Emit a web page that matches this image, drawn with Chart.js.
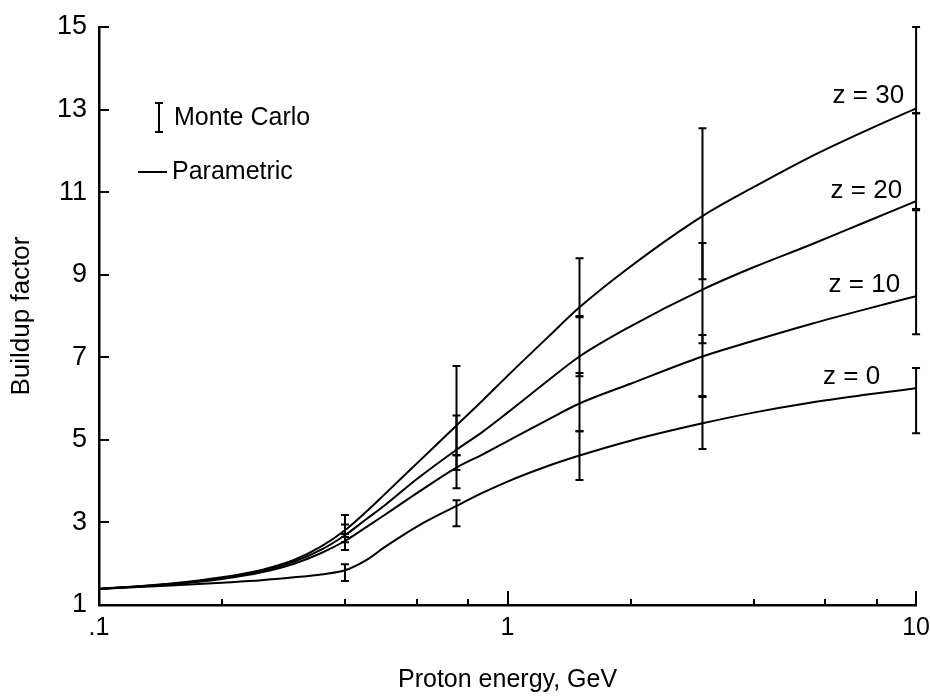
<!DOCTYPE html>
<html>
<head>
<meta charset="utf-8">
<script src="https://cdn.jsdelivr.net/npm/chart.js@4.4.1/dist/chart.umd.min.js"></script>
<style>
html,body{margin:0;padding:0;background:#fff;}
#wrap{width:930px;height:697px;position:relative;}
</style>
</head>
<body>
<div id="wrap"><canvas id="c" width="930" height="697"></canvas></div>
<script>
// ---------- data ----------
const energies = [0.1, 0.15, 0.2, 0.25, 0.3, 0.35, 0.4, 0.45, 0.5, 0.6, 0.75, 0.87, 1.0, 1.25, 1.5, 2.0, 3.0, 4.0, 5.5, 7.5, 10];
const z0  = [1.39, 1.47, 1.54, 1.60, 1.67, 1.74, 1.84, 2.08, 2.40, 2.90, 3.40, 3.72, 3.99, 4.36, 4.62, 4.98, 5.40, 5.66, 5.90, 6.09, 6.25];
const z10 = [1.39, 1.50, 1.63, 1.79, 2.00, 2.26, 2.55, 2.88, 3.18, 3.71, 4.33, 4.65, 4.97, 5.48, 5.88, 6.36, 7.02, 7.40, 7.80, 8.16, 8.48];
const z20 = [1.39, 1.51, 1.65, 1.82, 2.05, 2.34, 2.69, 3.07, 3.41, 4.05, 4.76, 5.20, 5.66, 6.42, 7.02, 7.75, 8.64, 9.18, 9.72, 10.27, 10.78];
const z30 = [1.39, 1.52, 1.67, 1.85, 2.09, 2.42, 2.81, 3.25, 3.68, 4.43, 5.35, 5.96, 6.55, 7.47, 8.21, 9.20, 10.42, 11.12, 11.85, 12.48, 13.03];
const curveLabels = ['z = 0', 'z = 10', 'z = 20', 'z = 30'];

// Monte Carlo error bars (low / high) at these energies
const mcEnergies = [0.4, 0.75, 1.5, 3, 10];
const mcZ0Low   = [1.58, 2.91, 4.03, 4.78, 5.16];
const mcZ0High  = [1.99, 3.54, 5.21, 6.04, 6.74];
const mcZ10Low  = [2.33, 3.83, 5.21, 6.06, 7.56];
const mcZ10High = [2.65, 4.63, 6.62, 7.54, 10.56];
const mcZ20Low  = [2.52, 4.27, 6.54, 7.34, 10.59];
const mcZ20High = [2.95, 5.59, 7.97, 9.77, 12.91];
const mcZ30Low  = [2.72, 4.63, 8.00, 8.89, 12.91];
const mcZ30High = [3.18, 6.79, 9.40, 12.55, 15.0];

// axes
const yTickValues = [1, 3, 5, 7, 9, 11, 13, 15];
const xTickValues = [0.1, 1, 10];
const xTickLabels = ['.1', '1', '10'];
const xMinorTickValues = [0.2, 0.4, 0.6, 0.8, 2, 4, 6, 8];
const xTitle = 'Proton energy, GeV';
const yTitle = 'Buildup factor';
const legendMC = 'Monte Carlo';
const legendParam = 'Parametric';

// ---------- drawing ----------
const FONT = "'Liberation Sans Narrow','Liberation Sans',Arial,sans-serif";
const curves = [z0, z10, z20, z30];
const mcSets = [
  {low: mcZ0Low, high: mcZ0High},
  {low: mcZ10Low, high: mcZ10High},
  {low: mcZ20Low, high: mcZ20High},
  {low: mcZ30Low, high: mcZ30High}
];
// label placement relative to the curve end (style)
const labelDx = [-36, -16, -14, -12];
const labelDy = [-11, -11, -10, -13];

const overlay = {
  id: 'overlay',
  afterDatasetsDraw(chart) {
    const {ctx, chartArea: a} = chart;
    const x = chart.scales.x, y = chart.scales.y;
    ctx.save();
    ctx.strokeStyle = '#000';
    ctx.fillStyle = '#000';
    ctx.lineCap = 'butt';
    // tick marks (inside)
    ctx.lineWidth = 2;
    yTickValues.forEach(v => {
      if (v === yTickValues[0]) return;
      const py = Math.round(y.getPixelForValue(v));
      ctx.beginPath(); ctx.moveTo(a.left, py); ctx.lineTo(a.left + 10, py); ctx.stroke();
    });
    xTickValues.forEach((v, i) => {
      if (i === 0) return;
      const px = Math.round(x.getPixelForValue(v));
      ctx.beginPath(); ctx.moveTo(px, a.bottom); ctx.lineTo(px, a.bottom - 14); ctx.stroke();
    });
    xMinorTickValues.forEach(v => {
      const px = Math.round(x.getPixelForValue(v));
      ctx.beginPath(); ctx.moveTo(px, a.bottom); ctx.lineTo(px, a.bottom - 6); ctx.stroke();
    });
    // error bars
    ctx.lineWidth = 2;
    mcSets.forEach(set => {
      set.low.forEach((lo, i) => {
        const px = x.getPixelForValue(mcEnergies[i]);
        const p1 = y.getPixelForValue(lo), p2 = y.getPixelForValue(set.high[i]);
        ctx.beginPath();
        ctx.moveTo(px, p1); ctx.lineTo(px, p2);
        ctx.moveTo(px - 4, p1); ctx.lineTo(px + 4, p1);
        ctx.moveTo(px - 4, p2); ctx.lineTo(px + 4, p2);
        ctx.stroke();
      });
    });
    // curve labels
    ctx.font = '26px ' + FONT;
    ctx.textAlign = 'right';
    ctx.textBaseline = 'middle';
    curves.forEach((vals, i) => {
      const px = x.getPixelForValue(energies[energies.length - 1]) + labelDx[i];
      const py = y.getPixelForValue(vals[vals.length - 1]) + labelDy[i];
      ctx.fillText(curveLabels[i], px, py);
    });
    // legend
    ctx.lineWidth = 2;
    ctx.beginPath();
    ctx.moveTo(159, 103); ctx.lineTo(159, 132);
    ctx.moveTo(155, 103); ctx.lineTo(163, 103);
    ctx.moveTo(155, 132); ctx.lineTo(163, 132);
    ctx.moveTo(138, 172); ctx.lineTo(167, 172);
    ctx.stroke();
    ctx.textAlign = 'left';
    ctx.font = '25px ' + FONT;
    ctx.fillText(legendMC, 174, 118);
    ctx.fillText(legendParam, 172, 172);
    ctx.restore();
  }
};

const datasets = curves.map((vals, i) => ({
  label: curveLabels[i],
  data: energies.map((e, k) => ({x: e, y: vals[k]})),
  borderColor: '#000',
  borderWidth: 2,
  pointRadius: 0,
  fill: false,
  cubicInterpolationMode: 'monotone'
}));

new Chart(document.getElementById('c'), {
  type: 'line',
  data: {datasets},
  options: {
    responsive: false,
    animation: false,
    events: [],
    layout: {autoPadding: false, padding: {left: 0, right: 13, top: 27, bottom: 0}},
    plugins: {legend: {display: false}, tooltip: {enabled: false}},
    scales: {
      x: {
        type: 'logarithmic',
        min: 0.1, max: 10,
        grid: {display: false},
        border: {display: true, color: '#000', width: 2.5},
        afterBuildTicks: s => { s.ticks = xTickValues.map(v => ({value: v})); },
        afterFit: s => { s.height = 92; },
        ticks: {
          color: '#000', padding: 0, maxRotation: 0, autoSkip: false,
          font: {family: FONT, size: 25},
          callback: (v, i) => xTickLabels[i]
        },
        title: {display: true, text: xTitle, color: '#000', font: {family: FONT, size: 25}, padding: {top: 0, bottom: 2}}
      },
      y: {
        min: 1, max: 15,
        grid: {display: false},
        border: {display: true, color: '#000', width: 2.5},
        afterBuildTicks: s => { s.ticks = yTickValues.map(v => ({value: v})); },
        afterFit: s => { s.width = 99; },
        ticks: {color: '#000', padding: 4, font: {family: FONT, size: 27}},
        title: {display: true, text: yTitle, color: '#000', font: {family: FONT, size: 26}, padding: {top: 6, bottom: 0}}
      }
    }
  },
  plugins: [overlay]
});
</script>
</body>
</html>
